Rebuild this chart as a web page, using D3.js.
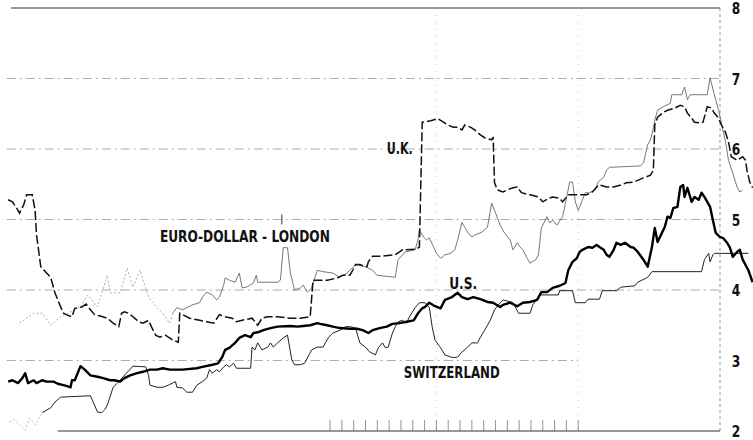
<!DOCTYPE html>
<html><head><meta charset="utf-8">
<script src="https://cdn.jsdelivr.net/npm/d3@7"></script>
<style>
html,body{margin:0;padding:0;background:#fff;}
svg{display:block;}
.lbl{font-family:"Liberation Sans Narrow","DejaVu Sans Condensed","DejaVu Sans",sans-serif;font-weight:bold;font-stretch:condensed;fill:#111;}
</style></head>
<body><svg id="c" width="753" height="440"></svg>
<script>
// ---- data (decimal year, % per annum) ----
const yTicks = [2,3,4,5,6,7,8];
const monthTicks = d3.range(0,22).map(i => 1964.25 + i/12);
const yearLines = [1965, 1966];

const uk = [
[1961.98,5.28],[1962.01,5.25],[1962.04,5.16],[1962.06,5.09],[1962.09,5.21],[1962.11,5.35],[1962.15,5.35],
[1962.17,5.13],[1962.18,4.78],[1962.21,4.33],[1962.28,4.18],[1962.31,3.96],[1962.35,3.76],[1962.37,3.67],
[1962.39,3.65],[1962.43,3.62],[1962.45,3.74],[1962.50,3.76],[1962.53,3.80],[1962.56,3.72],[1962.59,3.65],
[1962.63,3.63],[1962.68,3.60],[1962.72,3.53],[1962.76,3.48],[1962.78,3.67],[1962.80,3.69],[1962.83,3.67],
[1962.86,3.62],[1962.90,3.55],[1962.93,3.53],[1962.97,3.57],[1962.99,3.48],[1963.02,3.36],[1963.05,3.33],
[1963.09,3.36],[1963.11,3.33],[1963.14,3.29],[1963.18,3.26],[1963.19,3.67],[1963.21,3.65],[1963.26,3.60],
[1963.33,3.57],[1963.38,3.55],[1963.43,3.53],[1963.47,3.65],[1963.51,3.62],[1963.56,3.60],[1963.59,3.55],
[1963.63,3.57],[1963.70,3.60],[1963.74,3.50],[1963.77,3.60],[1963.81,3.62],[1963.88,3.62],[1963.97,3.60],
[1964.04,3.60],[1964.11,3.62],[1964.13,4.14],[1964.23,4.14],[1964.30,4.17],[1964.34,4.21],[1964.39,4.21],
[1964.41,4.28],[1964.43,4.36],[1964.46,4.36],[1964.51,4.33],[1964.52,4.40],[1964.55,4.48],[1964.62,4.48],
[1964.71,4.50],[1964.74,4.54],[1964.76,4.57],[1964.86,4.58],[1964.88,4.61],[1964.90,6.38],[1964.96,6.40],
[1965.01,6.43],[1965.05,6.38],[1965.08,6.34],[1965.12,6.31],[1965.15,6.31],[1965.18,6.27],[1965.20,6.34],
[1965.24,6.31],[1965.27,6.27],[1965.31,6.20],[1965.34,6.16],[1965.39,6.13],[1965.40,6.17],[1965.41,5.52],
[1965.43,5.42],[1965.47,5.39],[1965.50,5.42],[1965.54,5.45],[1965.57,5.46],[1965.60,5.38],[1965.66,5.35],
[1965.72,5.32],[1965.75,5.25],[1965.79,5.30],[1965.82,5.32],[1965.87,5.30],[1965.89,5.25],[1965.93,5.35],
[1966.06,5.35],[1966.10,5.39],[1966.13,5.46],[1966.15,5.49],[1966.20,5.46],[1966.25,5.46],[1966.30,5.49],
[1966.34,5.52],[1966.39,5.53],[1966.46,5.59],[1966.51,5.63],[1966.53,5.70],[1966.54,6.34],[1966.56,6.45],
[1966.60,6.52],[1966.63,6.55],[1966.68,6.58],[1966.72,6.62],[1966.75,6.60],[1966.77,6.51],[1966.80,6.44],
[1966.82,6.38],[1966.86,6.37],[1966.88,6.38],[1966.91,6.60],[1966.94,6.58],[1966.96,6.51],[1966.99,6.44],
[1967.01,6.34],[1967.04,6.23],[1967.06,6.10],[1967.08,5.89],[1967.12,5.84],[1967.16,5.89],[1967.18,5.84],
[1967.19,5.70],[1967.21,5.53],[1967.23,5.45]
];

const euro = [
[1962.06,3.53],[1962.16,3.67],[1962.22,3.67],[1962.28,3.50],[1962.35,3.62],[1962.49,3.76],[1962.54,3.93],
[1962.61,3.76],[1962.68,4.21],[1962.70,3.96],[1962.77,3.96],[1962.82,4.31],[1962.86,4.04],[1962.91,4.28],
[1962.97,3.90],[1963.03,3.75],[1963.07,3.67],[1963.12,3.53],[1963.14,3.67],[1963.17,3.75],[1963.21,3.72],
[1963.28,3.79],[1963.33,3.82],[1963.35,3.90],[1963.38,3.97],[1963.42,3.93],[1963.45,3.86],[1963.47,3.90],
[1963.50,4.07],[1963.51,4.17],[1963.54,4.14],[1963.58,4.11],[1963.61,4.24],[1963.63,4.03],[1963.66,4.04],
[1963.71,4.10],[1963.73,4.21],[1963.74,4.11],[1963.81,4.11],[1963.88,4.11],[1963.90,4.14],[1963.92,4.60],
[1963.95,4.60],[1963.97,4.24],[1964.00,4.00],[1964.04,4.03],[1964.06,4.07],[1964.09,3.97],[1964.12,4.03],
[1964.16,4.28],[1964.20,4.26],[1964.27,4.24],[1964.32,4.18],[1964.37,4.24],[1964.43,4.36],[1964.50,4.33],
[1964.55,4.28],[1964.58,4.21],[1964.71,4.18],[1964.73,4.43],[1964.78,4.54],[1964.85,4.57],[1964.87,4.71],
[1964.88,4.85],[1964.91,4.75],[1964.93,4.71],[1964.95,4.74],[1964.98,4.61],[1965.00,4.52],[1965.03,4.45],
[1965.06,4.50],[1965.10,4.52],[1965.13,4.57],[1965.15,4.71],[1965.18,4.96],[1965.20,4.89],[1965.22,4.82],
[1965.25,4.75],[1965.27,4.78],[1965.32,4.82],[1965.36,4.89],[1965.39,5.23],[1965.41,5.13],[1965.45,4.92],
[1965.48,4.81],[1965.52,4.71],[1965.54,4.57],[1965.57,4.67],[1965.59,4.61],[1965.61,4.57],[1965.64,4.45],
[1965.66,4.38],[1965.70,4.43],[1965.72,4.50],[1965.74,4.88],[1965.78,5.04],[1965.80,4.95],[1965.82,4.99],
[1965.85,4.92],[1965.89,5.04],[1965.91,5.23],[1965.94,5.53],[1965.96,5.53],[1965.98,5.25],[1966.00,5.13],
[1966.03,5.28],[1966.05,5.38],[1966.08,5.38],[1966.12,5.42],[1966.14,5.53],[1966.18,5.60],[1966.20,5.70],
[1966.22,5.74],[1966.44,5.76],[1966.46,5.80],[1966.49,6.06],[1966.51,6.13],[1966.53,6.30],[1966.54,6.41],
[1966.56,6.55],[1966.60,6.60],[1966.65,6.65],[1966.66,6.77],[1966.73,6.77],[1966.75,6.88],[1966.77,6.70],
[1966.79,6.77],[1966.91,6.77],[1966.93,7.01],[1966.96,6.77],[1966.99,6.55],[1967.01,6.37],[1967.04,6.09],
[1967.06,5.84],[1967.09,5.66],[1967.12,5.46],[1967.14,5.39],[1967.16,5.42]
];

const us = [
[1961.98,2.70],[1962.01,2.72],[1962.05,2.68],[1962.08,2.75],[1962.10,2.82],[1962.12,2.68],[1962.16,2.72],
[1962.18,2.68],[1962.22,2.72],[1962.25,2.70],[1962.30,2.70],[1962.33,2.67],[1962.37,2.65],[1962.39,2.64],
[1962.42,2.62],[1962.43,2.72],[1962.45,2.72],[1962.49,2.92],[1962.52,2.87],[1962.56,2.79],[1962.61,2.77],
[1962.65,2.75],[1962.70,2.72],[1962.73,2.72],[1962.77,2.70],[1962.80,2.75],[1962.84,2.79],[1962.89,2.82],
[1962.93,2.84],[1962.98,2.87],[1963.03,2.87],[1963.07,2.89],[1963.12,2.87],[1963.21,2.87],[1963.31,2.89],
[1963.35,2.91],[1963.42,2.94],[1963.46,2.96],[1963.49,3.05],[1963.51,3.15],[1963.54,3.18],[1963.58,3.25],
[1963.61,3.32],[1963.65,3.36],[1963.69,3.33],[1963.71,3.39],[1963.74,3.40],[1963.78,3.43],[1963.83,3.46],
[1963.88,3.48],[1963.97,3.49],[1964.02,3.48],[1964.06,3.49],[1964.11,3.50],[1964.16,3.53],[1964.18,3.52],
[1964.23,3.50],[1964.27,3.48],[1964.32,3.46],[1964.39,3.45],[1964.44,3.45],[1964.48,3.43],[1964.52,3.39],
[1964.55,3.43],[1964.60,3.46],[1964.65,3.48],[1964.69,3.52],[1964.74,3.53],[1964.79,3.55],[1964.84,3.57],
[1964.87,3.67],[1964.90,3.74],[1964.92,3.76],[1964.95,3.82],[1964.99,3.77],[1965.03,3.74],[1965.06,3.86],
[1965.11,3.90],[1965.15,3.96],[1965.18,3.90],[1965.22,3.87],[1965.26,3.90],[1965.31,3.87],[1965.36,3.83],
[1965.40,3.82],[1965.45,3.76],[1965.47,3.79],[1965.52,3.82],[1965.57,3.77],[1965.61,3.82],[1965.66,3.83],
[1965.71,3.86],[1965.74,3.97],[1965.78,3.97],[1965.82,4.03],[1965.87,4.06],[1965.91,4.10],[1965.93,4.28],
[1965.96,4.40],[1965.99,4.45],[1966.01,4.54],[1966.03,4.57],[1966.07,4.61],[1966.10,4.60],[1966.13,4.64],
[1966.15,4.61],[1966.18,4.57],[1966.20,4.50],[1966.22,4.47],[1966.25,4.57],[1966.27,4.67],[1966.30,4.64],
[1966.33,4.67],[1966.37,4.61],[1966.39,4.60],[1966.42,4.54],[1966.46,4.43],[1966.49,4.33],[1966.52,4.61],
[1966.54,4.88],[1966.56,4.68],[1966.59,4.81],[1966.61,4.89],[1966.63,5.04],[1966.65,5.02],[1966.67,5.16],
[1966.70,5.18],[1966.72,5.46],[1966.74,5.49],[1966.75,5.32],[1966.77,5.45],[1966.80,5.25],[1966.82,5.32],
[1966.85,5.28],[1966.87,5.38],[1966.89,5.32],[1966.93,5.18],[1966.95,4.99],[1966.97,4.81],[1967.00,4.75],
[1967.02,4.74],[1967.05,4.67],[1967.07,4.60],[1967.09,4.47],[1967.12,4.54],[1967.14,4.57],[1967.16,4.43],
[1967.20,4.28],[1967.23,4.11]
];

const swiss = [
[1961.99,2.13],[1962.02,2.16],[1962.06,2.09],[1962.10,2.01],[1962.13,2.18],[1962.17,2.09],[1962.22,2.26],
[1962.28,2.33],[1962.31,2.41],[1962.35,2.48],[1962.56,2.50],[1962.58,2.41],[1962.61,2.27],[1962.64,2.26],
[1962.66,2.30],[1962.68,2.37],[1962.72,2.62],[1962.75,2.68],[1962.86,2.92],[1962.95,2.91],[1962.97,2.79],
[1962.98,2.65],[1963.03,2.62],[1963.07,2.62],[1963.11,2.65],[1963.16,2.70],[1963.17,2.62],[1963.21,2.61],
[1963.24,2.55],[1963.28,2.55],[1963.31,2.65],[1963.35,2.70],[1963.38,2.75],[1963.40,2.87],[1963.42,2.82],
[1963.45,2.87],[1963.47,2.84],[1963.50,2.91],[1963.52,2.94],[1963.54,2.91],[1963.57,2.96],[1963.59,2.89],
[1963.69,2.89],[1963.70,3.19],[1963.72,3.15],[1963.74,3.25],[1963.77,3.15],[1963.81,3.19],[1963.83,3.25],
[1963.85,3.19],[1963.88,3.25],[1963.92,3.32],[1963.95,3.36],[1963.98,3.01],[1964.00,2.94],[1964.04,2.94],
[1964.07,2.96],[1964.12,3.15],[1964.16,3.19],[1964.20,3.19],[1964.24,3.33],[1964.27,3.39],[1964.32,3.43],
[1964.36,3.48],[1964.39,3.48],[1964.43,3.46],[1964.46,3.25],[1964.50,3.19],[1964.53,3.12],[1964.57,3.08],
[1964.59,3.18],[1964.62,3.25],[1964.64,3.18],[1964.66,3.19],[1964.69,3.39],[1964.71,3.48],[1964.73,3.55],
[1964.76,3.57],[1964.79,3.53],[1964.81,3.62],[1964.85,3.75],[1964.88,3.82],[1964.92,3.82],[1964.95,3.75],
[1964.97,3.48],[1964.99,3.29],[1965.03,3.18],[1965.06,3.08],[1965.10,3.05],[1965.12,3.04],[1965.15,3.05],
[1965.18,3.12],[1965.22,3.19],[1965.25,3.25],[1965.29,3.25],[1965.31,3.33],[1965.34,3.43],[1965.38,3.57],
[1965.41,3.72],[1965.45,3.82],[1965.47,3.86],[1965.54,3.82],[1965.58,3.67],[1965.66,3.67],[1965.68,3.79],
[1965.73,3.93],[1965.86,3.93],[1965.87,3.99],[1965.96,3.99],[1965.98,3.82],[1966.05,3.82],[1966.07,3.87],
[1966.15,3.87],[1966.17,3.99],[1966.27,3.99],[1966.30,4.04],[1966.40,4.06],[1966.42,4.11],[1966.49,4.18],
[1966.52,4.26],[1966.87,4.26],[1966.89,4.43],[1966.92,4.52],[1966.93,4.40],[1966.95,4.50],[1966.96,4.52],
[1967.20,4.52]
];

const labels = [
  {text:"U.K.", t:1964.65, v:5.93, w:26},
  {text:"EURO-DOLLAR - LONDON", t:1963.05, v:4.68, w:170},
  {text:"U.S.", t:1965.09, v:4.02, w:28},
  {text:"SWITZERLAND", t:1964.77, v:2.75, w:96}
];

// ---- drawing ----
const svg = d3.select("#c");
const x = d3.scaleLinear().domain([1962, 1967]).range([11, 720]);
const y = d3.scaleLinear().domain([2, 8]).range([431, 8]);

const g = svg.append("g");
g.selectAll("line.grid").data([3,4,5,6,7]).enter().append("line")
  .attr("x1", x(1961.97)).attr("x2", d => d===3 ? x(1966.0) : x(1967))
  .attr("y1", d => y(d)).attr("y2", d => y(d))
  .attr("stroke", "#888").attr("stroke-width", 0.7)
  .attr("stroke-dasharray", "9,4,2,4");
g.append("line").attr("x1", x(1962)).attr("x2", x(1967))
  .attr("y1", y(8)).attr("y2", y(8)).attr("stroke", "#333").attr("stroke-width", 1.2);
g.append("line").attr("x1", x(1962.33)).attr("x2", x(1967))
  .attr("y1", y(2)).attr("y2", y(2)).attr("stroke", "#333").attr("stroke-width", 1.1);
g.append("line").attr("x1", x(1967)).attr("x2", x(1967))
  .attr("y1", y(8)).attr("y2", y(2)).attr("stroke", "#777").attr("stroke-width", 0.8)
  .attr("stroke-dasharray", "3,3");
g.selectAll("line.yr").data(yearLines).enter().append("line")
  .attr("x1", d => x(d)).attr("x2", d => x(d))
  .attr("y1", y(8)).attr("y2", y(2)).attr("stroke", "#aaa").attr("stroke-width", 0.7)
  .attr("stroke-dasharray", "1,6");
g.selectAll("line.mt").data(monthTicks).enter().append("line")
  .attr("x1", d => x(d)).attr("x2", d => x(d))
  .attr("y1", y(2) - 11).attr("y2", y(2)).attr("stroke", "#666").attr("stroke-width", 0.7);
g.append("line").attr("x1", x(1963.91)).attr("x2", x(1963.91))
  .attr("y1", y(5) - 5).attr("y2", y(5) + 5).attr("stroke", "#333").attr("stroke-width", 1);

// right-hand scale
const ax = svg.append("g").attr("transform", `translate(${x(1967) + 10},0)`)
  .call(d3.axisRight(y).tickValues(yTicks).tickSize(0).tickFormat(d3.format("d")));
ax.select(".domain").remove();
ax.selectAll("text").attr("class", "lbl").attr("font-size", 16).attr("dx", 0).attr("dy", "0.36em")
  .attr("transform", "scale(0.85,1)").attr("x", 2);

// series
const line = d3.line().x(d => x(d[0])).y(d => y(d[1]));
const euroEarly = euro.filter(d => d[0] <= 1963.14);
const euroLate = euro.filter(d => d[0] >= 1963.14);
svg.append("path").datum(euroEarly).attr("d", line).attr("fill", "none")
  .attr("stroke", "#999").attr("stroke-width", 0.8).attr("stroke-dasharray", "2,2");
svg.append("path").datum(euroLate).attr("d", line).attr("fill", "none")
  .attr("stroke", "#555").attr("stroke-width", 0.8);
const swissEarly = swiss.filter(d => d[0] <= 1962.22);
const swissLate = swiss.filter(d => d[0] >= 1962.22);
svg.append("path").datum(swissEarly).attr("d", line).attr("fill", "none")
  .attr("stroke", "#aaa").attr("stroke-width", 0.8).attr("stroke-dasharray", "2,2");
svg.append("path").datum(swissLate).attr("d", line).attr("fill", "none")
  .attr("stroke", "#222").attr("stroke-width", 1);
svg.append("path").datum(uk).attr("d", line).attr("fill", "none")
  .attr("stroke", "#111").attr("stroke-width", 1.5).attr("stroke-dasharray", "9,3");
svg.append("path").datum(us).attr("d", line).attr("fill", "none")
  .attr("stroke", "#000").attr("stroke-width", 2.4).attr("stroke-linejoin", "round");

// labels
svg.selectAll("text.series").data(labels).enter().append("text")
  .attr("class", "lbl").attr("x", d => x(d.t)).attr("y", d => y(d.v))
  .attr("font-size", 15).attr("textLength", d => d.w).attr("lengthAdjust", "spacingAndGlyphs")
  .text(d => d.text);
</script></body></html>
